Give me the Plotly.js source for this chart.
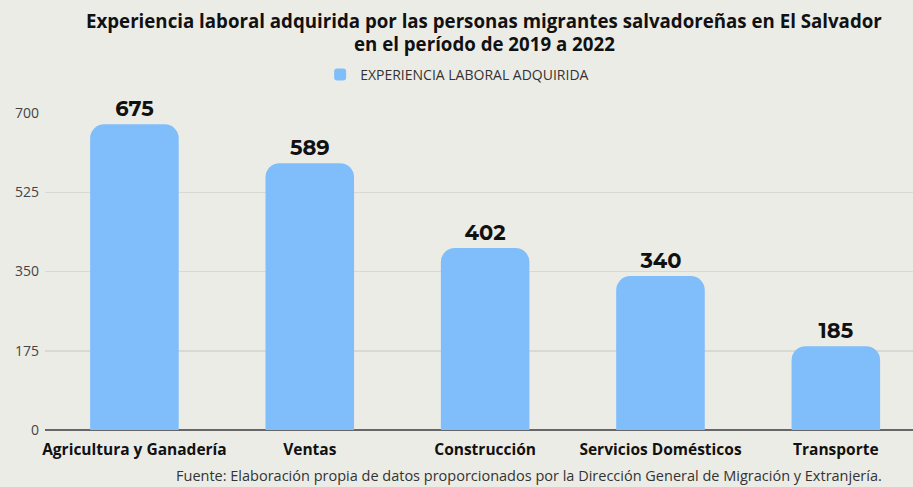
<!DOCTYPE html>
<html><head><meta charset="utf-8">
<script src="https://cdn.plot.ly/plotly-3.0.1.min.js"></script>
<style>html,body{margin:0;padding:0;background:#ecece6;}</style>
</head><body>
<div id="chart" style="width:913px;height:487px;"></div>
<script>
var categories = ["Agricultura y Ganadería", "Ventas", "Construcción", "Servicios Domésticos", "Transporte"];
var values = [675, 589, 402, 340, 185];
var seriesName = "EXPERIENCIA LABORAL ADQUIRIDA";
var yTicks = [0, 175, 350, 525, 700];
var titleLines = ["Experiencia laboral adquirida por las personas migrantes salvadoreñas en El Salvador", "en el período de 2019 a 2022"];
var sourceText = "Fuente: Elaboración propia de datos proporcionados por la Dirección General de Migración y Extranjería.";

var FONT = "'Open Sans', Roboto, sans-serif";

var trace = {
  type: "bar",
  x: categories,
  y: values,
  name: seriesName,
  width: 0.505,
  marker: {color: "#80bdfb", cornerradius: 14},
  text: values.map(String),
  textposition: "outside",
  cliponaxis: false,
  textfont: {family: "Montserrat, 'DejaVu Sans', sans-serif", size: 21, color: "#111", weight: 700},
  hoverinfo: "x+y"
};

var layout = {
  width: 913, height: 487,
  paper_bgcolor: "#ecece6",
  plot_bgcolor: "#ecece6",
  margin: {l: 45, r: 0, t: 113, b: 57},
  showlegend: true,
  legend: {
    orientation: "h", x: 0.317, xanchor: "left", y: 1.12, yanchor: "middle",
    font: {family: FONT, size: 14, color: "#333"},
    bgcolor: "rgba(0,0,0,0)"
  },
  xaxis: {
    range: [-0.51, 4.44],
    tickfont: {family: FONT, size: 15.5, color: "#111", weight: 700},
    showgrid: false, zeroline: false, showline: false,
    ticks: "", ticklen: 0, ticklabelstandoff: 8
  },
  yaxis: {
    range: [0, 700],
    tickvals: yTicks,
    ticktext: yTicks.map(String),
    tickfont: {family: FONT, size: 14, color: "#444"},
    showgrid: true, gridcolor: "#d9d9d4", gridwidth: 1.5,
    zeroline: true, zerolinecolor: "#666", zerolinewidth: 2.5,
    showline: false, ticks: "", ticklabelstandoff: 5
  },
  annotations: [
    {text: "<b>" + titleLines[0] + "</b>", xref: "paper", yref: "paper", x: 0.506, xanchor: "center",
     y: 1.293, yanchor: "middle", showarrow: false, font: {family: FONT, size: 18.7, color: "#111"}},
    {text: "<b>" + titleLines[1] + "</b>", xref: "paper", yref: "paper", x: 0.506, xanchor: "center",
     y: 1.218, yanchor: "middle", showarrow: false, font: {family: FONT, size: 18.7, color: "#111"}},
    {text: sourceText, xref: "paper", yref: "paper", x: 0.967, xanchor: "right", y: -0.145, yanchor: "middle",
     showarrow: false, font: {family: FONT, size: 14.5, color: "#333"}}
  ]
};

Plotly.newPlot("chart", [trace], layout, {displayModeBar: false, staticPlot: true});
</script>
</body></html>
